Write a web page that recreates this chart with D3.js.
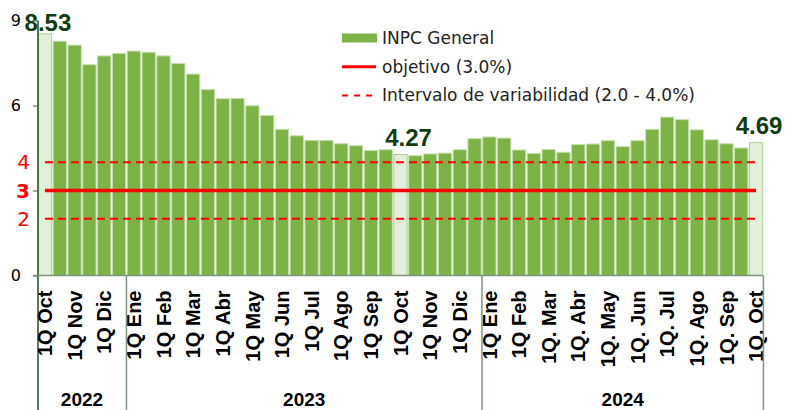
<!DOCTYPE html>
<html>
<head>
<meta charset="utf-8">
<script src="https://cdn.jsdelivr.net/npm/d3@7"></script>
<style>
  body { margin: 0; background: #fff; }
  #chart svg { display: block; }
</style>
</head>
<body>
<div id="chart"></div>
<script>
// INPC general, variación anual por quincena (1Q / 2Q de cada mes)
const years = ['2022', '2023', '2024'];
const yearMonths = [
  ['Oct', 'Nov', 'Dic'],
  ['Ene', 'Feb', 'Mar', 'Abr', 'May', 'Jun', 'Jul', 'Ago', 'Sep', 'Oct', 'Nov', 'Dic'],
  ['Ene', 'Feb', 'Mar', 'Abr', 'May', 'Jun', 'Jul', 'Ago', 'Sep', 'Oct'],
];
const inpc = [
  8.53, 8.27, 8.13, 7.44, 7.75, 7.84,
  7.92, 7.88, 7.75, 7.48, 7.11, 6.56, 6.24, 6.25, 5.99, 5.65, 5.16, 4.93,
  4.77, 4.77, 4.65, 4.58, 4.41, 4.44, 4.27, 4.23, 4.29, 4.32, 4.44, 4.83,
  4.89, 4.85, 4.43, 4.31, 4.45, 4.35, 4.62, 4.64, 4.76, 4.55, 4.76, 5.16,
  5.59, 5.50, 5.14, 4.79, 4.65, 4.50, 4.69,
];
const tickLabels = [
  '1Q Oct', '1Q Nov', '1Q Dic',
  '1Q Ene', '1Q Feb', '1Q Mar', '1Q Abr', '1Q May', '1Q Jun', '1Q Jul', '1Q Ago', '1Q Sep', '1Q Oct', '1Q Nov', '1Q Dic',
  '1Q Ene', '1Q Feb', '1Q. Mar', '1Q. Abr', '1Q. May', '1Q. Jun', '1Q. Jul', '1Q. Ago', '1Q. Sep', '1Q. Oct',
];
const highlighted = ['2022 Oct 1Q', '2023 Oct 1Q', '2024 Oct 1Q'];
const objetivo = 3.0;
const intervalo = [2.0, 4.0];
const yTicks = [0, 3, 6, 9];
const legendItems = ['INPC General', 'objetivo (3.0%)', 'Intervalo de variabilidad (2.0 - 4.0%)'];

const width = 791;
const height = 410;
const margin = {top: 20.5, right: 28, bottom: 134.5, left: 38};

const colors = {
  bar: '#7db247',
  barEdge: '#c6e0b0',
  light: '#e2efda',
  lightEdge: '#a9d18e',
  label: '#0f3c10',
  axis: '#1f4d1f',
  grid: '#7d957d',
  red: '#ff0000',
};

// one key per quincena
const periods = [];
years.forEach((yr, i) => yearMonths[i].forEach(m => {
  periods.push({key: `${yr} ${m} 1Q`, year: yr});
  periods.push({key: `${yr} ${m} 2Q`, year: yr});
}));
const data = inpc.map((v, i) => ({...periods[i], value: v}));
data.forEach(d => { d.light = highlighted.includes(d.key); });
const firstQ = data.filter(d => d.key.endsWith('1Q'));

const x = d3.scaleBand()
  .domain(data.map(d => d.key))
  .range([margin.left, width - margin.right])
  .paddingInner(0.1)
  .paddingOuter(0.02);

const y = d3.scaleLinear()
  .domain([0, 9])
  .range([height - margin.bottom, margin.top]);

const svg = d3.select('#chart')
  .append('svg')
  .attr('width', width)
  .attr('height', height)
  .attr('viewBox', [0, 0, width, height]);

// bars
svg.append('g')
  .selectAll('rect')
  .data(data)
  .join('rect')
  .attr('x', d => x(d.key))
  .attr('y', d => y(d.value))
  .attr('width', x.bandwidth())
  .attr('height', d => y(0) - y(d.value))
  .attr('fill', d => d.light ? colors.light : colors.bar)
  .attr('stroke', d => d.light ? colors.lightEdge : colors.barEdge)
  .attr('stroke-width', 1);

// target and band lines run from first to last bar center
const cx = d => x(d.key) + x.bandwidth() / 2;
const x0 = cx(data[0]);
const x1 = cx(data[data.length - 1]);

svg.append('g')
  .attr('stroke', colors.red)
  .attr('stroke-width', 2)
  .attr('stroke-dasharray', '8,5')
  .selectAll('line')
  .data(intervalo)
  .join('line')
  .attr('x1', x0)
  .attr('x2', x1)
  .attr('y1', d => y(d))
  .attr('y2', d => y(d));

svg.append('line')
  .attr('x1', x0)
  .attr('x2', x1)
  .attr('y1', y(objetivo))
  .attr('y2', y(objetivo))
  .attr('stroke', colors.red)
  .attr('stroke-width', 3.5);

// value labels on the highlighted bars
svg.append('g')
  .attr('font-family', '"Liberation Sans", Arial, sans-serif')
  .attr('font-weight', 'bold')
  .attr('font-size', 24)
  .attr('fill', colors.label)
  .attr('text-anchor', 'middle')
  .selectAll('text')
  .data(data.filter(d => d.light))
  .join('text')
  .attr('x', d => cx(d) + (d.key.startsWith('2023') ? 8 : 3))
  .attr('y', d => Math.max(y(d.value) - 9, 31))
  .text(d => d.value.toFixed(2));

// y axis
const yAxis = svg.append('g')
  .attr('transform', `translate(${margin.left},0)`)
  .call(d3.axisLeft(y).tickValues(yTicks).tickSize(5).tickFormat(''));
yAxis.select('.domain').remove();
yAxis.selectAll('.tick line')
  .attr('stroke', colors.grid)
  .attr('stroke-width', 1.5);

svg.append('line')
  .attr('x1', margin.left)
  .attr('x2', margin.left)
  .attr('y1', y(9))
  .attr('y2', height)
  .attr('stroke', colors.axis)
  .attr('stroke-width', 1.5);

svg.append('line')
  .attr('x1', margin.left - 5)
  .attr('x2', width - margin.right)
  .attr('y1', y(0))
  .attr('y2', y(0))
  .attr('stroke', colors.grid)
  .attr('stroke-width', 1.5);

svg.append('g')
  .attr('font-family', '"DejaVu Sans", sans-serif')
  .attr('font-size', 16)
  .attr('text-anchor', 'end')
  .selectAll('text')
  .data(yTicks.filter(d => d !== 3))
  .join('text')
  .attr('x', 21)
  .attr('y', d => y(d))
  .attr('dy', '0.35em')
  .text(d => d);

svg.append('g')
  .attr('font-family', '"DejaVu Sans", sans-serif')
  .attr('font-size', 20)
  .attr('fill', colors.red)
  .attr('text-anchor', 'end')
  .selectAll('text')
  .data([intervalo[1], objetivo, intervalo[0]])
  .join('text')
  .attr('x', 30)
  .attr('y', d => y(d))
  .attr('dy', '0.36em')
  .attr('font-weight', d => d === objetivo ? 'bold' : null)
  .text(d => d);

// x tick labels, rotated, on each 1Q bar
svg.append('g')
  .attr('font-family', '"Liberation Sans", Arial, sans-serif')
  .attr('font-weight', 'bold')
  .attr('font-size', 20)
  .attr('text-anchor', 'end')
  .selectAll('text')
  .data(firstQ)
  .join('text')
  .attr('transform', d => `translate(${cx(d)},${y(0) + 15}) rotate(-90)`)
  .attr('dy', '0.36em')
  .text((d, i) => tickLabels[i]);

// year separators and labels
const yearSpans = years.map(yr => {
  const ds = data.filter(d => d.year === yr);
  const gap = (x.step() - x.bandwidth()) / 2;
  const a = x(ds[0].key) - gap;
  const b = x(ds[ds.length - 1].key) + x.bandwidth() + gap;
  return {year: yr, a, b};
});

svg.append('g')
  .attr('stroke', colors.grid)
  .attr('stroke-width', 1.5)
  .selectAll('line')
  .data(yearSpans.slice(1).map(d => d.a).concat([yearSpans[yearSpans.length - 1].b]))
  .join('line')
  .attr('x1', d => d)
  .attr('x2', d => d)
  .attr('y1', y(0))
  .attr('y2', height);

svg.append('g')
  .attr('font-family', '"Liberation Sans", Arial, sans-serif')
  .attr('font-weight', 'bold')
  .attr('font-size', 19)
  .attr('text-anchor', 'middle')
  .selectAll('text')
  .data(yearSpans)
  .join('text')
  .attr('x', d => (d.a + d.b) / 2)
  .attr('y', 406)
  .text(d => d.year);

// legend
const legend = svg.append('g')
  .attr('transform', 'translate(342,38)')
  .attr('font-family', '"DejaVu Sans", sans-serif')
  .attr('font-size', 17)
  .selectAll('g')
  .data(legendItems)
  .join('g')
  .attr('transform', (d, i) => `translate(0,${i * 28.7})`);

legend.append('text')
  .attr('x', 40)
  .attr('dy', '0.35em')
  .attr('fill', '#222')
  .text(d => d);

legend.filter((d, i) => i === 0)
  .append('rect')
  .attr('y', -4.5)
  .attr('width', 35)
  .attr('height', 9)
  .attr('fill', colors.bar);

legend.filter((d, i) => i > 0)
  .append('line')
  .attr('x2', 34)
  .attr('stroke', colors.red)
  .attr('stroke-width', (d, i) => i === 0 ? 3 : 2)
  .attr('stroke-dasharray', (d, i) => i === 0 ? null : '6,6');
</script>
</body>
</html>
